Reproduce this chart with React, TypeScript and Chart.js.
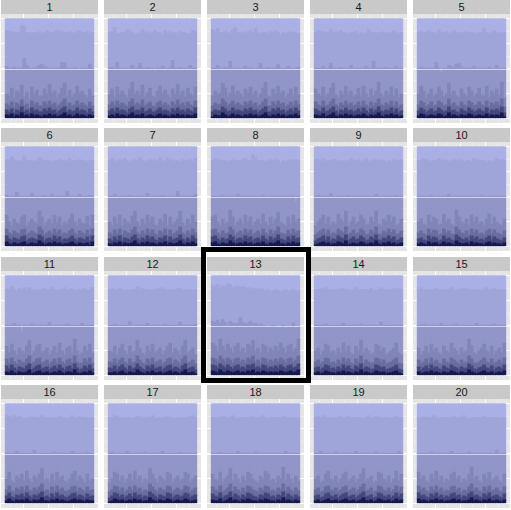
import React, { useEffect, useRef } from "react";
import { Chart, registerables } from "chart.js";
Chart.register(...registerables);

const panelLabels = ["1","2","3","4","5","6","7","8","9","10","11","12","13","14","15","16","17","18","19","20"];
const highlightedPanel = "13";
const xValues = [1,2,3,4,5,6,7,8,9,10,11,12,13,14,15,16,17,18,19,20,21,22,23,24,25,26,27,28,29,30,31,32,33,34,35];
const xBreaks = [0,5,10,15,20,25,30,35];
const yBreaks = [0,0.125,0.25,0.375,0.5,0.625,0.75,0.875,1];
const refLine = 0.5;

// cumulative boundaries (percent from bottom), one row per panel
const b1 = [
[3,2,4,1,3, 2,5,2,3,1, 4,2,3,2,1, 3,2,4,2,3, 1,2,3,5,2, 3,1,2,4,2, 3,2,1,3,2],
[2,3,1,4,2, 3,2,1,3,5, 2,3,2,4,1, 2,3,2,1,3, 4,2,3,2,1, 3,2,4,2,3, 1,3,2,2,4],
[1,3,2,2,5, 3,1,2,4,2, 3,2,1,3,2, 4,2,3,1,2, 3,5,2,1,3, 2,4,2,3,1, 2,3,2,4,2],
[3,2,2,4,1, 2,3,5,2,1, 3,2,4,2,3, 1,2,3,2,4, 2,1,3,2,3, 5,2,1,3,2, 4,2,3,1,2],
[2,4,3,1,2, 3,2,2,4,3, 1,2,5,2,3, 2,1,3,2,2, 4,3,1,2,3, 2,2,4,1,3, 2,3,2,5,1],
[4,2,1,3,2, 2,3,4,1,2, 3,2,2,5,3, 1,2,3,2,4, 2,3,1,2,2, 3,4,2,1,3, 2,2,3,1,4],
[2,1,3,2,4, 1,3,2,2,3, 5,2,1,3,2, 4,2,3,2,1, 3,2,4,1,3, 2,2,3,5,2, 1,3,2,4,2],
[3,4,2,1,3, 2,2,5,3,1, 2,3,2,4,2, 3,1,2,3,2, 4,2,1,3,2, 3,5,2,2,1, 3,2,4,2,3],
[1,2,3,4,2, 3,1,2,2,4, 3,2,5,1,2, 3,2,2,4,3, 1,2,3,2,5, 2,1,3,2,4, 2,3,1,2,3],
[2,3,2,1,4, 2,3,3,1,2, 4,2,3,2,1, 5,3,2,2,3, 1,4,2,3,2, 2,1,3,4,2, 3,2,2,1,3],
[3,2,4,2,1, 3,2,2,3,5, 1,2,3,4,2, 2,3,1,2,3, 2,4,2,1,3, 3,2,5,2,1, 2,3,2,4,2],
[2,2,3,1,3, 4,2,1,3,2, 2,5,3,2,1, 3,2,4,2,2, 3,1,2,3,4, 2,3,2,1,3, 5,2,2,3,1],
[4,3,2,5,3, 2,4,3,2,3, 4,2,3,2,4, 3,5,2,3,2, 4,3,2,3,2, 3,2,4,3,2, 3,4,2,3,5],
[2,3,1,2,4, 3,2,2,1,3, 2,4,2,3,2, 1,3,2,5,2, 3,2,1,2,4, 3,2,3,1,2, 2,3,4,2,1],
[3,1,2,3,2, 4,2,3,2,1, 3,2,2,4,3, 2,1,3,2,2, 5,3,2,1,2, 3,4,2,2,3, 1,2,3,2,4],
[2,4,2,1,3, 2,3,2,4,2, 1,3,2,3,5, 2,2,1,3,2, 4,2,3,2,1, 2,3,4,2,3, 2,1,3,2,2],
[1,2,4,3,2, 3,1,2,3,2, 4,2,3,1,2, 2,5,3,2,1, 3,2,2,4,3, 1,2,3,2,2, 4,3,1,2,3],
[3,2,2,4,1, 2,3,5,2,3, 2,1,3,2,4, 3,2,2,1,3, 2,4,3,2,2, 1,3,2,5,2, 3,2,1,3,2],
[2,3,1,2,3, 4,2,2,3,1, 2,3,4,2,2, 3,1,2,3,5, 2,2,3,1,2, 4,3,2,2,3, 1,2,4,2,3],
[4,2,3,2,1, 3,2,4,2,3, 1,2,2,3,4, 2,3,1,2,2, 3,5,2,3,2, 1,3,2,4,2, 2,3,2,1,3],
];

const b2 = [
[8,6,9,5,8, 7,11,6,8,5, 10,7,8,6,6, 9,7,10,7,8, 5,7,9,11,6, 8,6,7,10,7, 8,7,5,9,6],
[7,9,6,10,7, 8,7,5,9,11, 7,8,7,10,6, 7,9,6,6,8, 10,7,8,7,5, 9,7,10,7,8, 6,9,7,6,10],
[6,8,7,7,11, 9,6,7,10,7, 8,7,6,9,7, 10,7,8,5,7, 9,11,6,6,9, 7,10,7,8,5, 7,9,6,10,7],
[9,7,6,10,6, 7,9,11,7,5, 8,7,10,7,8, 6,7,9,6,10, 7,5,9,6,8, 11,7,6,8,7, 10,6,9,5,7],
[7,10,8,5,7, 9,6,7,10,8, 6,7,11,7,8, 6,5,9,7,6, 10,8,6,7,9, 7,6,10,5,8, 7,9,7,11,5],
[10,7,5,8,7, 6,9,10,5,7, 8,7,6,11,9, 5,7,8,6,10, 7,9,5,7,6, 8,10,7,5,8, 7,6,9,5,10],
[7,5,9,6,10, 5,8,7,6,9, 11,7,5,8,6, 10,7,9,6,5, 8,7,10,5,9, 6,7,8,11,7, 5,8,6,10,7],
[9,10,7,5,8, 6,7,11,9,5, 7,8,6,10,7, 9,5,7,8,6, 10,7,5,9,6, 8,11,7,6,5, 9,6,10,7,8],
[5,7,8,10,6, 9,5,7,6,10, 8,7,11,5,7, 9,6,7,10,8, 5,6,9,7,11, 6,5,8,7,10, 7,9,5,6,8],
[7,8,6,5,10, 7,9,8,5,6, 10,7,8,6,5, 11,9,7,6,8, 5,10,7,9,6, 7,5,8,10,6, 9,7,6,5,8],
[9,6,10,7,5, 8,7,6,9,11, 5,7,9,10,6, 7,8,5,7,9, 6,10,7,5,8, 9,6,11,7,5, 6,9,7,10,6],
[7,6,9,5,8, 10,7,5,9,6, 7,11,8,6,5, 9,7,10,6,7, 8,5,7,9,10, 6,8,7,5,9, 11,6,7,8,5],
[10,9,7,11,9, 7,10,8,6,9, 10,7,8,6,10, 9,11,7,8,6, 10,9,6,8,7, 9,7,10,8,6, 9,10,7,8,11],
[7,8,5,7,10, 9,6,7,5,8, 6,10,7,9,6, 5,9,7,11,6, 8,7,5,6,10, 9,7,8,5,6, 7,8,10,6,5],
[8,5,7,9,6, 10,7,8,6,5, 9,7,6,10,8, 7,5,8,6,7, 11,9,6,5,7, 8,10,7,6,9, 5,7,8,6,10],
[7,10,6,5,8, 7,9,6,10,7, 5,8,7,9,11, 6,7,5,9,6, 10,7,8,6,5, 7,9,10,6,8, 7,5,9,6,7],
[5,7,10,9,6, 8,5,7,9,6, 10,7,8,5,7, 6,11,9,7,5, 8,7,6,10,9, 5,7,8,6,7, 10,9,5,7,8],
[9,7,6,10,5, 7,8,11,6,9, 7,5,8,6,10, 9,7,6,5,8, 7,10,9,6,7, 5,8,7,11,6, 9,7,5,8,6],
[7,8,5,6,9, 10,7,6,8,5, 7,9,10,6,7, 8,5,7,9,11, 6,7,8,5,6, 10,9,7,6,8, 5,7,10,6,9],
[10,7,8,6,5, 9,7,10,6,8, 5,7,6,9,10, 7,8,5,7,6, 9,11,7,8,6, 5,9,7,10,6, 7,8,6,5,9],
];

const b3 = [
[14,12,16,11,15, 13,18,12,14,10, 17,13,15,12,12, 16,13,17,13,15, 11,13,16,19,12, 15,12,13,17,13, 15,13,11,16,12],
[13,16,12,17,13, 15,13,11,16,19, 13,15,13,18,12, 14,16,12,11,15, 17,13,15,13,11, 16,13,18,13,15, 12,16,13,12,17],
[12,15,13,14,19, 16,12,14,17,13, 15,13,12,16,14, 17,13,15,11,13, 16,19,12,12,16, 13,17,14,15,11, 13,16,12,17,13],
[16,13,12,17,12, 13,16,19,13,11, 15,13,17,13,15, 12,13,16,12,17, 13,11,16,12,15, 19,13,12,15,13, 17,12,16,11,13],
[13,17,15,11,13, 16,12,13,17,15, 12,13,19,13,15, 12,11,16,13,12, 17,15,12,13,16, 13,12,17,11,15, 13,16,13,19,11],
[17,13,11,15,13, 12,16,17,11,13, 15,13,12,19,16, 11,13,15,12,17, 13,16,11,13,12, 15,17,13,11,15, 13,12,16,11,17],
[13,11,16,12,17, 11,15,13,12,16, 19,13,11,15,12, 17,13,16,12,11, 15,13,17,11,16, 12,13,15,19,13, 11,15,12,17,13],
[16,17,13,11,15, 12,13,19,16,11, 13,15,12,17,13, 16,11,13,15,12, 17,13,11,16,12, 15,19,13,12,11, 16,12,17,13,15],
[11,13,15,17,12, 16,11,13,12,17, 15,13,19,11,13, 16,12,13,17,15, 11,12,16,13,19, 12,11,15,13,17, 13,16,11,12,15],
[13,15,12,11,17, 13,16,15,11,12, 17,13,15,12,11, 19,16,13,12,15, 11,17,13,16,12, 13,11,15,17,12, 16,13,12,11,15],
[16,12,17,13,11, 15,13,12,16,19, 11,13,16,17,12, 13,15,11,13,16, 12,17,13,11,15, 16,12,19,13,11, 12,16,13,17,12],
[13,12,16,11,15, 17,13,11,16,12, 13,19,15,12,11, 16,13,17,12,13, 15,11,13,16,17, 12,15,13,11,16, 19,12,13,15,11],
[17,16,13,19,16, 13,17,15,12,16, 17,13,15,12,17, 16,19,13,15,12, 17,16,12,15,13, 16,13,17,15,12, 16,17,13,15,19],
[13,15,11,13,17, 16,12,13,11,15, 12,17,13,16,12, 11,16,13,19,12, 15,13,11,12,17, 16,13,15,11,12, 13,15,17,12,11],
[15,11,13,16,12, 17,13,15,12,11, 16,13,12,17,15, 13,11,15,12,13, 19,16,12,11,13, 15,17,13,12,16, 11,13,15,12,17],
[13,17,12,11,15, 13,16,12,17,13, 11,15,13,16,19, 12,13,11,16,12, 17,13,15,12,11, 13,16,17,12,15, 13,11,16,12,13],
[11,13,17,16,12, 15,11,13,16,12, 17,13,15,11,13, 12,19,16,13,11, 15,13,12,17,16, 11,13,15,12,13, 17,16,11,13,15],
[16,13,12,17,11, 13,15,19,12,16, 13,11,15,12,17, 16,13,12,11,15, 13,17,16,12,13, 11,15,13,19,12, 16,13,11,15,12],
[13,15,11,12,16, 17,13,12,15,11, 13,16,17,12,13, 15,11,13,16,19, 12,13,15,11,12, 17,16,13,12,15, 11,13,17,12,16],
[17,13,15,12,11, 16,13,17,12,15, 11,13,12,16,17, 13,15,11,13,12, 16,19,13,15,12, 11,16,13,17,12, 13,15,12,11,16],
];

const b4 = [
[24,22,30,20,27, 25,33,21,26,19, 31,24,28,22,22, 29,24,34,25,27, 20,24,30,35,22, 28,21,24,32,25, 27,23,20,29,22],
[23,29,21,31,24, 27,23,20,29,36, 24,27,23,33,21, 25,30,22,20,27, 32,24,28,23,20, 29,24,34,23,27, 21,30,24,22,31],
[22,27,24,25,35, 30,21,25,32,23, 27,24,21,29,25, 31,23,27,20,24, 30,36,22,21,29, 24,32,25,27,20, 24,29,22,31,23],
[29,24,22,31,21, 24,30,35,23,20, 27,24,32,23,27, 21,23,30,22,32, 24,20,29,22,27, 36,24,21,27,23, 31,22,29,20,24],
[24,32,27,20,24, 29,22,24,31,27, 21,24,35,23,27, 22,20,29,24,22, 31,27,21,24,30, 23,22,32,20,27, 24,29,23,36,20],
[31,24,20,27,23, 22,29,31,20,24, 27,24,22,35,29, 20,24,27,22,31, 23,29,20,24,22, 27,32,24,20,27, 23,22,30,20,31],
[24,20,29,22,31, 20,27,24,22,30, 35,24,20,27,22, 31,24,29,21,20, 27,24,32,20,29, 22,24,27,35,23, 20,27,22,31,24],
[29,31,24,20,27, 22,24,36,29,20, 24,27,22,31,24, 29,20,24,27,22, 32,24,20,29,22, 27,34,24,22,20, 29,22,31,24,27],
[20,24,27,31,22, 29,20,24,22,32, 27,24,35,20,24, 29,22,24,31,27, 20,22,29,24,35, 22,20,27,24,31, 24,29,20,22,27],
[24,27,22,20,31, 24,29,27,20,22, 32,24,27,22,20, 36,29,24,22,27, 20,31,24,29,22, 24,20,27,32,22, 29,24,22,20,27],
[29,22,31,24,20, 27,24,22,29,35, 20,24,29,31,22, 24,27,20,24,29, 22,32,24,20,27, 29,22,36,24,20, 22,29,24,31,22],
[24,22,29,20,27, 31,24,20,29,22, 24,35,27,22,20, 29,24,31,22,24, 27,20,24,29,32, 22,27,24,20,29, 35,22,24,27,20],
[32,30,24,36,29, 24,31,27,22,29, 32,24,27,22,31, 29,35,24,27,22, 31,29,22,27,24, 29,24,32,27,22, 29,31,24,27,36],
[24,27,20,24,31, 29,22,24,20,27, 22,32,24,29,22, 20,29,24,35,22, 27,24,20,22,31, 29,24,27,20,22, 24,27,32,22,20],
[27,20,24,29,22, 31,24,27,22,20, 29,24,22,32,27, 24,20,27,22,24, 36,29,22,20,24, 27,31,24,22,29, 20,24,27,22,32],
[24,31,22,20,27, 24,29,22,32,24, 20,27,24,29,35, 22,24,20,29,22, 31,24,27,22,20, 24,29,32,22,27, 24,20,29,22,24],
[20,24,31,29,22, 27,20,24,29,22, 32,24,27,20,24, 22,35,29,24,20, 27,24,22,31,29, 20,24,27,22,24, 31,29,20,24,27],
[29,24,22,31,20, 24,27,35,22,29, 24,20,27,22,31, 29,24,22,20,27, 24,32,29,22,24, 20,27,24,36,22, 29,24,20,27,22],
[24,27,20,22,29, 32,24,22,27,20, 24,29,31,22,24, 27,20,24,29,35, 22,24,27,20,22, 31,29,24,22,27, 20,24,32,22,29],
[31,24,27,22,20, 29,24,32,22,27, 20,24,22,29,31, 24,27,20,24,22, 29,36,24,27,22, 20,29,24,31,22, 24,27,22,20,29],
];

const b5 = [
[52,50,50,51,50, 50,50,60,53,50, 50,50,51,53,54, 52,51,50,50,50, 50,50,56,56,50, 50,50,50,50,48, 50,50,50,54,50],
[50,51,50,56,50, 50,49,50,50,53, 50,50,55,50,50, 51,50,50,47,50, 50,52,50,50,50, 58,50,50,51,50, 50,50,53,50,50],
[50,50,53,50,50, 51,50,57,50,50, 50,50,50,52,50, 50,50,49,50,55, 50,50,51,50,50, 50,54,50,50,50, 52,50,50,50,51],
[50,50,50,52,50, 50,55,50,50,50, 51,50,50,50,53, 50,50,50,50,50, 52,50,50,57,50, 50,50,50,51,50, 50,50,52,50,50],
[50,51,50,50,50, 50,50,56,50,46, 50,50,53,52,50, 54,55,51,50,50, 50,50,52,50,50, 50,50,50,51,50, 50,53,50,50,50],
[51,50,50,50,54, 50,50,50,50,50, 53,50,50,50,50, 51,50,50,52,50, 50,50,50,50,55, 50,50,50,50,52, 50,50,50,51,50],
[50,50,52,50,50, 50,50,50,51,50, 50,50,50,50,50, 53,50,50,50,50, 50,51,50,50,50, 50,50,55,50,50, 50,50,50,50,52],
[50,50,50,50,51, 50,50,50,50,50, 52,50,50,50,50, 50,50,50,50,50, 51,50,50,50,50, 50,50,50,50,50, 50,50,50,44,50],
[50,51,50,50,50, 50,53,50,50,50, 50,50,50,51,50, 50,50,50,50,50, 50,50,50,50,52, 50,50,50,50,50, 50,50,51,50,50],
[50,50,50,50,50, 51,50,50,50,50, 50,50,52,50,50, 50,50,50,50,50, 50,50,50,50,50, 51,50,50,50,50, 50,50,50,50,50],
[50,50,50,52,50, 50,43,50,50,50, 51,50,50,50,50, 50,50,53,50,50, 50,50,50,50,51, 50,50,50,50,50, 52,50,50,50,50],
[50,50,51,50,50, 50,50,50,54,50, 50,50,50,50,50, 52,50,50,50,50, 50,50,51,50,50, 50,50,50,53,50, 50,50,50,50,51],
[54,53,55,52,56, 53,50,54,52,51, 52,58,53,51,52, 54,51,52,50,51, 50,49,48,49,50, 49,47,48,50,47, 49,48,52,47,48],
[50,50,50,50,51, 50,50,50,50,50, 50,52,50,50,50, 50,50,50,51,50, 50,50,50,50,50, 50,53,50,50,50, 50,50,50,50,50],
[50,50,51,50,50, 50,50,50,50,52, 50,50,50,50,50, 51,50,50,50,50, 50,50,50,52,50, 50,50,50,50,50, 51,50,50,50,50],
[50,50,50,50,52, 50,50,50,50,50, 50,53,50,50,50, 50,50,50,50,51, 50,50,50,50,50, 50,52,50,50,50, 50,50,51,50,50],
[50,51,50,50,50, 50,50,52,50,50, 50,50,50,50,51, 50,50,50,50,50, 50,52,50,50,50, 50,50,50,51,50, 50,50,50,50,50],
[50,50,50,51,50, 50,50,50,50,50, 52,50,50,50,50, 50,50,51,50,50, 50,50,50,50,50, 50,50,50,50,52, 50,50,50,50,50],
[50,50,52,50,50, 50,50,50,51,50, 50,50,50,50,50, 50,52,50,50,50, 50,50,50,50,51, 50,50,50,50,50, 50,50,50,52,50],
[50,50,50,50,50, 51,50,50,50,50, 50,50,50,52,50, 50,50,50,50,50, 51,50,50,50,50, 50,50,50,50,50, 50,53,50,50,50],
];

const b6 = [
[88,87,87,86,86, 86,93,93,86,86, 85,86,86,87,85, 86,88,86,86,87, 88,88,87,86,86, 87,86,85,87,88, 86,86,87,85,86],
[86,87,91,85,85, 86,86,89,88,86, 84,85,86,89,86, 87,85,86,88,86, 86,84,88,86,87, 85,86,83,87,86, 86,85,85,88,87],
[89,87,90,86,86, 87,86,85,89,91, 86,86,85,87,86, 88,86,90,86,85, 86,86,85,87,86, 88,86,84,86,85, 86,87,86,86,85],
[86,88,87,87,86, 85,89,86,87,86, 88,86,86,85,86, 86,87,84,86,85, 86,89,86,86,85, 86,86,87,85,86, 86,88,86,85,86],
[86,87,86,86,88, 86,86,85,89,86, 86,87,85,86,88, 86,86,86,85,87, 86,86,86,85,86, 86,90,86,85,86, 88,86,86,85,86],
[87,86,90,87,86, 86,85,90,86,86, 86,85,86,89,87, 86,86,86,85,86, 86,87,86,86,85, 88,86,86,86,87, 86,86,85,86,86],
[86,88,86,85,87, 86,88,86,84,86, 87,86,89,86,85, 86,87,86,87,85, 89,85,86,88,86, 87,85,86,85,87, 86,86,87,85,88],
[86,88,87,86,86, 86,85,86,87,86, 86,86,87,88,86, 86,92,89,86,86, 86,85,86,87,86, 87,86,84,86,85, 86,87,86,87,86],
[87,87,86,88,85, 86,86,87,87,86, 85,86,85,86,88, 86,86,87,85,86, 88,85,86,87,86, 86,87,86,84,86, 85,87,86,86,87],
[86,86,88,87,86, 85,86,86,88,86, 87,86,85,86,87, 86,87,86,85,86, 86,85,88,86,87, 86,86,84,86,85, 86,88,86,87,86],
[87,86,89,86,85, 87,86,88,86,88, 86,85,86,85,86, 87,86,86,88,86, 85,86,86,88,86, 86,87,85,86,86, 86,87,85,86,88],
[86,87,86,86,87, 86,85,86,85,86, 86,89,86,87,86, 86,85,86,86,87, 86,88,86,86,85, 86,86,87,87,86, 85,86,86,85,86],
[90,89,91,88,90, 89,92,91,88,89, 90,88,89,88,87, 88,86,87,86,87, 86,85,86,84,85, 86,85,84,85,86, 84,85,86,85,84],
[86,86,87,86,88, 86,86,85,86,86, 87,87,86,86,85, 86,88,85,86,86, 86,86,87,85,86, 86,88,86,85,86, 86,87,86,87,86],
[86,88,86,86,85, 86,86,87,86,86, 86,85,86,88,85, 86,86,87,86,87, 86,86,85,86,86, 85,86,88,86,86, 87,86,86,85,86],
[88,87,86,88,86, 87,86,85,86,86, 87,86,86,86,88, 86,86,85,86,86, 86,87,86,86,85, 86,88,86,86,87, 86,86,86,85,86],
[86,86,88,87,86, 86,85,86,86,85, 86,87,87,86,86, 86,86,88,85,86, 86,86,86,87,86, 86,85,86,86,85, 86,86,87,88,86],
[86,86,86,86,87, 87,86,86,88,86, 85,86,86,86,86, 86,87,86,86,86, 88,86,85,86,86, 86,86,86,87,86, 86,85,86,86,85],
[86,87,86,88,86, 86,86,85,86,86, 87,86,86,87,86, 86,86,86,86,85, 86,88,86,86,87, 86,86,86,86,86, 85,86,87,86,86],
[86,86,87,86,86, 86,88,86,85,86, 86,86,86,86,87, 86,86,86,88,86, 85,86,86,86,86, 86,87,86,86,86, 86,86,85,86,86],
];

const boundaries = [b1, b2, b3, b4, b5, b6];
const layerColors = ["#161850", "#44477a", "#6a6da0", "#8185b8", "#9195c8", "#a0a5d9", "#aab0e6"];

const panelBg = "#e5e5e5";
const stripBg = "#c9c9c9";
const COLS = 5;
const PANEL_W = 97;
const STRIP_H = 14;
const PLOT_H = 109;

const bgPlugin = {
  id: "panelBg",
  beforeDraw(chart: any) {
    const { ctx, width, height } = chart;
    ctx.save();
    ctx.fillStyle = panelBg;
    ctx.fillRect(0, 0, width, height);
    ctx.restore();
  },
};

const refLinePlugin = {
  id: "refLine",
  afterDatasetsDraw(chart: any) {
    const { ctx, chartArea, scales } = chart;
    const y = Math.round(scales.y.getPixelForValue(refLine)) + 0.5;
    ctx.save();
    ctx.strokeStyle = "rgba(255,255,255,0.6)";
    ctx.lineWidth = 1;
    ctx.beginPath();
    ctx.moveTo(chartArea.left, y);
    ctx.lineTo(chartArea.right, y);
    ctx.stroke();
    ctx.restore();
  },
};

function Panel({ index }: { index: number }) {
  const ref = useRef<HTMLCanvasElement | null>(null);
  useEffect(() => {
    if (!ref.current) return;
    const cum = boundaries.map((b) => b[index]);
    const datasets = layerColors.map((color, k) => ({
      data: xValues.map((x, i) => {
        const lower = k === 0 ? 0 : cum[k - 1][i];
        const upper = k === cum.length ? 100 : cum[k][i];
        return { x, y: (upper - lower) / 100 };
      }),
      backgroundColor: color,
      borderWidth: 0,
      inflateAmount: 0.6,
      barPercentage: 1,
      categoryPercentage: 1,
    }));
    const chart = new Chart(ref.current, {
      type: "bar",
      data: { datasets } as any,
      options: {
        animation: false,
        responsive: false,
        devicePixelRatio: 1,
        layout: { padding: 0 },
        plugins: { legend: { display: false }, tooltip: { enabled: false }, title: { display: false } },
        scales: {
          x: {
            type: "linear",
            min: -1.25,
            max: 37.25,
            stacked: true,
            offset: false,
            ticks: { display: false },
            border: { display: false },
            grid: {
              drawTicks: false,
              color: (c: any) => (c.tick && c.tick.value % 10 === 0 ? "#ffffff" : "#f2f2f2"),
              lineWidth: (c: any) => (c.tick && c.tick.value % 10 === 0 ? 1 : 0.6),
            },
            afterBuildTicks: (s: any) => {
              s.ticks = xBreaks.map((v) => ({ value: v }));
            },
          },
          y: {
            min: -0.05,
            max: 1.05,
            stacked: true,
            ticks: { display: false },
            border: { display: false },
            grid: {
              drawTicks: false,
              color: (c: any) => (c.tick && Math.round(c.tick.value * 8) % 2 === 0 ? "#ffffff" : "#f2f2f2"),
              lineWidth: (c: any) => (c.tick && Math.round(c.tick.value * 8) % 2 === 0 ? 1 : 0.6),
            },
            afterBuildTicks: (s: any) => {
              s.ticks = yBreaks.map((v) => ({ value: v }));
            },
          },
        },
      } as any,
      plugins: [bgPlugin, refLinePlugin],
    });
    return () => chart.destroy();
  }, [index]);

  const col = index % COLS;
  const row = Math.floor(index / COLS);
  const left = 1 + col * 103;
  const top = Math.round(row * 128.4);
  return (
    <div style={{ position: "absolute", left, top, width: PANEL_W, height: STRIP_H + PLOT_H }}>
      <div
        style={{
          height: STRIP_H,
          background: stripBg,
          color: "#1a1a1a",
          fontFamily: "'Liberation Sans', Arial, sans-serif",
          fontSize: 11,
          lineHeight: STRIP_H + "px",
          textAlign: "center",
        }}
      >
        {panelLabels[index]}
      </div>
      <canvas ref={ref} width={PANEL_W} height={PLOT_H} style={{ display: "block", width: PANEL_W, height: PLOT_H }} />
    </div>
  );
}

export default function App() {
  const hi = panelLabels.indexOf(highlightedPanel);
  const hiCol = hi % COLS;
  const hiRow = Math.floor(hi / COLS);
  return (
    <div style={{ position: "fixed", left: 0, top: 0, width: 511, height: 510, background: "#ffffff", overflow: "hidden" }}>
      {panelLabels.map((_, i) => (
        <Panel key={i} index={i} />
      ))}
      <div
        style={{
          position: "absolute",
          left: 1 + hiCol * 103 - 6,
          top: Math.round(hiRow * 128.4) - 10,
          width: 110,
          height: 136,
          border: "5px solid #000",
          boxSizing: "border-box",
        }}
      />
    </div>
  );
}
